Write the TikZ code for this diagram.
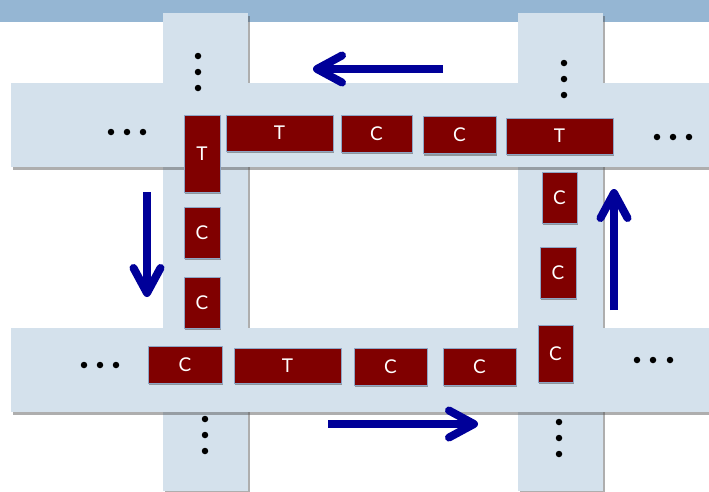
\documentclass[tikz,border=0pt]{standalone}
\usepackage{fontspec}
\setsansfont{Lato}
\usepackage{tikz}
\usetikzlibrary{arrows.meta, shadows}
\definecolor{bandblue}{HTML}{95B6D3}
\definecolor{roadblue}{HTML}{D4E1EC}
\definecolor{carred}{HTML}{800000}
\definecolor{edgeblue}{HTML}{8EA6C6}
\definecolor{flowblue}{HTML}{000099}
\tikzset{
    road/.style = {
        fill = roadblue,
        drop shadow = {shadow xshift=1.5pt, shadow yshift=-2.5pt, opacity=0.45, fill=black!70}
    },
    block/.style = {
        draw = edgeblue, fill = carred, line width = 0.8pt,
        text = white, inner sep = 0pt,
        font = \sffamily\fontsize{19}{19}\selectfont,
        drop shadow = {shadow xshift=1pt, shadow yshift=-2pt, opacity=0.5, fill=black!70}
    },
    hbox/.style = {block, minimum width=73pt, minimum height=37pt},
    tbox/.style = {block, minimum width=107pt, minimum height=36pt},
    vbox/.style = {block, minimum width=36pt, minimum height=51pt},
    dotnode/.style = {circle, fill=black, inner sep=0pt, minimum size=6.5pt},
    flow/.style = {draw=flowblue, line width=8pt,
        -{Straight Barb[length=25pt, width=27pt, round]}}
}

\begin{document}
\begin{tikzpicture}[x=1pt, y=-1pt]

    \useasboundingbox (0,0) rectangle (709,491);

    % Header band
    \fill[bandblue] (0,0) rectangle (709,22);

    % Roads (vertical first, the horizontal ones lie on top)
    \path[road] (163,13) rectangle (248,491);
    \path[road] (518,13) rectangle (603,491);
    \path[road] (11,83) rectangle (709,167);
    \path[road] (11,328) rectangle (709,412);

    % Top row
    \node[block, minimum width=36pt, minimum height=77pt] (tv) at (202,153.5) {T};
    \node[tbox] (t1) at (279.5,133) {T};
    \node[hbox, minimum width=71pt] (c1) at (376.5,133.5) {C};
    \node[hbox] (c2) at (459.5,135) {C};
    \node[tbox] (t2) at (559.5,136) {T};

    % Left column
    \node[vbox] (c3) at (202,232.5) {C};
    \node[vbox] (c4) at (202,302.5) {C};

    % Bottom row
    \node[hbox, minimum width=74pt] (c5) at (185,364.5) {C};
    \node[tbox, minimum height=35pt] (t3) at (287.5,365.5) {T};
    \node[hbox] (c6) at (390.5,366.5) {C};
    \node[hbox] (c7) at (479.5,366.5) {C};

    % Right column
    \node[vbox, minimum width=35pt, minimum height=57pt] (c8) at (555.5,353.5) {C};
    \node[vbox] (c9) at (558,272.5) {C};
    \node[vbox, minimum width=35pt] (c10) at (559.5,197.5) {C};

    % Dots
    \foreach \y [count=\i] in {56,72,88} \node[dotnode] (dtl\i) at (198,\y) {};
    \foreach \y [count=\i] in {63,79,95} \node[dotnode] (dtr\i) at (564,\y) {};
    \foreach \y [count=\i] in {419,435,451} \node[dotnode] (dbl\i) at (205,\y) {};
    \foreach \y [count=\i] in {422,438,454} \node[dotnode] (dbr\i) at (559,\y) {};
    \foreach \x [count=\i] in {111,127,143} \node[dotnode] (dlt\i) at (\x,132) {};
    \foreach \x [count=\i] in {657,673,689} \node[dotnode] (drt\i) at (\x,137) {};
    \foreach \x [count=\i] in {84,100,116} \node[dotnode] (dlb\i) at (\x,365) {};
    \foreach \x [count=\i] in {637,653,670} \node[dotnode] (drb\i) at (\x,360) {};

    % Arrows
    \coordinate (topS) at (443,69);
    \coordinate (topE) at (313,69);
    \coordinate (leftS) at (147,192);
    \coordinate (leftE) at (147,297);
    \coordinate (botS) at (328,424);
    \coordinate (botE) at (478,424);
    \coordinate (rightS) at (614,310);
    \coordinate (rightE) at (614,189);
    \draw[flow] (topS) -- (topE);
    \draw[flow] (leftS) -- (leftE);
    \draw[flow] (botS) -- (botE);
    \draw[flow] (rightS) -- (rightE);

\end{tikzpicture}
\end{document}
